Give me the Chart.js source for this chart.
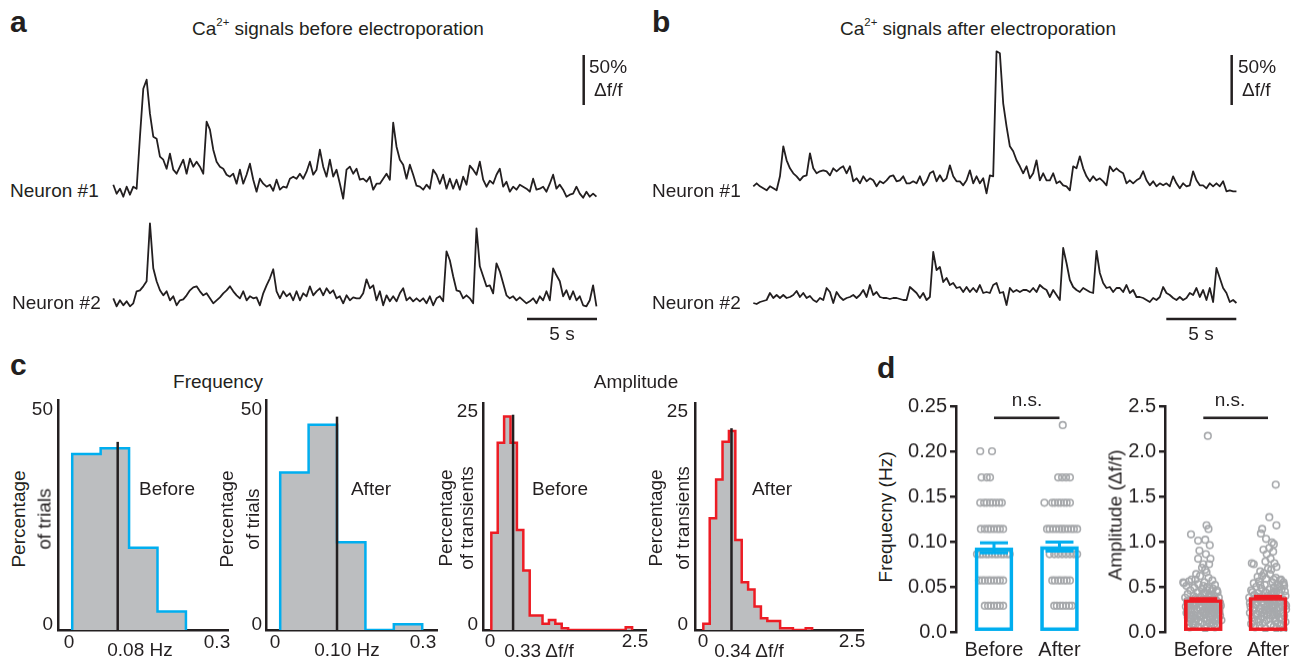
<!DOCTYPE html>
<html lang="en">
  <head>
    <meta charset="UTF-8" />
    <title>Ca2+ signals before and after electroporation</title>
    <script src="https://cdn.jsdelivr.net/npm/chart.js"></script>
    <style>
      body { margin: 0; background: #fff; }
      #fig {
        position: relative; width: 1298px; height: 661px; overflow: hidden;
        font-family: "Liberation Sans", Arial, sans-serif; color: #231f20;
      }
      #fig canvas { position: absolute; }
      .t { position: absolute; white-space: nowrap; font-size: 19px; line-height: 1; }
      .p { font-weight: bold; font-size: 30px; }
      sup { font-size: 0.6em; line-height: 0; vertical-align: 0.75em; }
    </style>
  </head>
  <body>
    <div id="fig"></div>
    <script>
      const ink = "#231f20";
      const blue = "#00aeef";
      const red = "#ed1c24";
      const histFill = "#bcbec0";
      const dotGrey = "#a7a9ac";

      // ---- panels a/b: Δf/f traces (% above baseline), one sample every dt seconds
      const dt = 0.238;
      const neuron1Before = [
        12, 3, 8, 0, 10, 2, 10, 8, 60, 108,
        117, 83, 60, 58, 40, 37, 28, 43, 27, 23,
        30, 37, 23, 38, 30, 35, 30, 23, 75, 67,
        47, 35, 30, 28, 22, 20, 23, 13, 27, 13,
        22, 33, 17, 5, 18, 13, 10, 12, 6, 17,
        7, 10, 9, 18, 20, 18, 23, 18, 25, 35,
        22, 27, 47, 30, 20, 37, 20, 27, 13, -2,
        27, 30, 23, 28, 17, 18, 15, 20, 7, 13,
        13, 18, 23, 17, 74, 50, 37, 32, 18, 32,
        22, 11, 10, 7, 12, 8, 27, 22, 13, 22,
        8, 18, 8, 17, 7, 20, 12, 31, 27, 22,
        35, 17, 10, 16, 13, 22, 28, 10, 15, 5,
        10, 7, 12, 10, 8, 5, 18, 7, 8, 10,
        5, 13, 22, 8, 12, 7, 0, 2, 3, 10,
        3, -1, 5, 0, 3, 0
      ];
      const neuron2Before = [
        10, 2, 8, 3, 7, 2, 5, 17, 18, 22,
        27, 85, 40, 27, 18, 13, 17, 8, 12, 3,
        8, 9, 13, 18, 21, 22, 17, 13, 15, 10,
        5, 8, 11, 15, 18, 22, 17, 13, 10, 17,
        8, 12, 10, 11, 3, 15, 23, 30, 39, 17,
        10, 17, 12, 15, 8, 17, 8, 15, 12, 22,
        13, 17, 20, 13, 20, 15, 18, 10, 12, 5,
        13, 8, 11, 10, 10, 15, 29, 20, 23, 8,
        17, 3, 13, 7, 12, 7, 15, 20, 8, 11,
        7, 10, 7, 10, 5, 12, 3, 10, 12, 7,
        57, 48, 32, 18, 17, 10, 13, 10, 5, 80,
        42, 32, 22, 23, 15, 45, 37, 25, 13, 10,
        12, 8, 11, 8, 5, 7, 10, 5, 12, 8,
        17, 8, 40, 33, 27, 12, 18, 9, 17, 8,
        12, 3, 2, 8, 23, 2
      ];
      const neuron1After = [
        7, 10, 7, 5, 3, 7, 5, 3, 17, 47,
        33, 25, 20, 17, 13, 17, 18, 40, 25, 20,
        22, 23, 22, 18, 25, 22, 25, 27, 20, 27,
        12, 15, 10, 17, 12, 15, 13, 7, 12, 10,
        13, 17, 18, 12, 13, 17, 10, 10, 12, 10,
        17, 8, 12, 20, 22, 12, 18, 12, 15, 28,
        17, 12, 12, 8, 13, 23, 10, 17, 10, 15,
        0, 18, 17, 142, 140, 90, 67, 47, 42, 33,
        27, 20, 27, 15, 20, 33, 13, 20, 13, 13,
        20, 10, 12, 8, 7, 3, 27, 25, 37, 25,
        17, 12, 17, 13, 15, 12, 8, 27, 22, 25,
        22, 20, 10, 13, 10, 13, 15, 22, 13, 8,
        12, 7, 10, 8, 10, 7, 17, 10, 5, 10,
        7, 8, 22, 13, 8, 8, 5, 10, 7, 10,
        7, 12, 2, 3, 2, 2
      ];
      const neuron2After = [
        2, 1, 3, 4, 5, 12, 7, 10, 7, 10,
        7, 8, 10, 14, 8, 12, 7, 9, 5, 3,
        7, 5, 17, 13, 2, 13, 8, 5, 7, 8,
        10, 7, 10, 15, 8, 20, 10, 13, 8, 7,
        7, 6, 7, 7, 6, 5, 5, 18, 15, 12,
        7, 12, 5, 8, 53, 35, 38, 23, 27, 20,
        22, 17, 18, 13, 18, 13, 17, 13, 20, 12,
        13, 12, 20, 22, 12, 13, 0, 17, 13, 15,
        13, 15, 15, 13, 17, 13, 20, 17, 15, 8,
        15, 10, 5, 57, 42, 25, 18, 15, 13, 17,
        15, 13, 12, 54, 32, 22, 17, 18, 13, 17,
        17, 13, 20, 12, 15, 8, 8, 7, 5, 3,
        7, 5, 8, 18, 12, 10, 7, 5, 8, 5,
        7, 12, 10, 17, 8, 15, 5, 17, 3, 37,
        27, 17, 12, 3, 5, 2
      ];
      const scaleBarSec = 5;
      const scaleBarPct = 50;

      // ---- panel c: histograms (% of trials / transients per bin)
      const freqBinWidth = 0.05;
      const freqBeforePct = [39.1, 40.4, 18.3, 4.1];
      const freqAfterPct = [35.0, 45.6, 19.5, 0, 1.3];
      const ampBinWidth = 0.1;
      const ampBeforePct = [10.8, 20.8, 23.7, 20.8, 11.1, 6.6, 1.6, 1.6, 0.7, 1.1, 0.7, 0.2,
        0, 0, 0, 0, 0, 0, 0, 0, 0, 0.3];
      const ampAfterPct = [0.7, 12.4, 16.7, 20.9, 22.1, 10.0, 5.3, 4.5, 2.6, 1.3, 1.0, 1.0,
        0.2, 0.2, 0, 0, 0.2];
      const medianFreq = [0.08, 0.10];
      const medianAmp = [0.33, 0.34];
      const medianAmpMarkerAt = [0.34, 0.44]; // where the figure draws the marker lines
      const medianFreqTop = [41.8, 47.4];
      const medianAmpTop = [23.9, 22.4];

      // ---- panel d: per-trial values with horizontal jitter
      const groups = ["Before", "After"];
      const freqMean = [0.093, 0.0945];
      const freqSem = [0.0055, 0.005];
      const ampMean = [0.358, 0.383];
      const ampSem = [0.012, 0.012];
      const freqTicks = [0, 0.05, 0.1, 0.15, 0.2, 0.25];
      const ampTicks = [0, 0.5, 1, 1.5, 2, 2.5];
      const freqNsLevel = 0.237;
      const ampNsLevel = 2.37;

      const freqBefore = [
        0.200, 0.200, 0.171, 0.171, 0.171,
        0.143, 0.143, 0.143, 0.143, 0.143, 0.143, 0.143, 0.143,
        0.114, 0.114, 0.114, 0.114, 0.114, 0.114, 0.114, 0.114,
        0.086, 0.086, 0.086, 0.086, 0.086, 0.086, 0.086, 0.086, 0.086, 0.086, 0.086, 0.086,
        0.057, 0.057, 0.057, 0.057, 0.057, 0.057, 0.057, 0.057, 0.057,
        0.029, 0.029, 0.029, 0.029, 0.029, 0.029, 0.029
      ];
      const freqBeforeJit = [
        -0.21, -0.03, -0.19, -0.11, -0.06,
        -0.21, -0.15, -0.11, -0.06, -0.02, 0.03, 0.08, 0.12,
        -0.20, -0.14, -0.09, -0.05, 0.00, 0.05, 0.09, 0.14,
        -0.26, -0.21, -0.17, -0.12, -0.08, -0.03, 0.02, 0.06, 0.11, 0.15, 0.20, 0.24,
        -0.23, -0.18, -0.14, -0.09, -0.05, 0.00, 0.05, 0.09, 0.14,
        -0.14, -0.09, -0.05, 0.00, 0.05, 0.09, 0.14
      ];
      const freqAfter = [
        0.229, 0.171, 0.171, 0.171, 0.171,
        0.143, 0.143, 0.143, 0.143, 0.143, 0.143, 0.143, 0.143,
        0.114, 0.114, 0.114, 0.114, 0.114, 0.114, 0.114, 0.114, 0.114, 0.114, 0.114,
        0.086, 0.086, 0.086, 0.086, 0.086, 0.086, 0.086, 0.086,
        0.057, 0.057, 0.057, 0.057, 0.057, 0.057, 0.057,
        0.029, 0.029, 0.029, 0.029, 0.029, 0.029, 0.029
      ];
      const freqAfterJit = [
        0.05, -0.02, 0.04, 0.10, 0.16,
        -0.23, -0.11, -0.07, -0.02, 0.02, 0.07, 0.11, 0.16,
        -0.19, -0.15, -0.10, -0.05, 0.00, 0.04, 0.08, 0.13, 0.18, 0.22, 0.27,
        -0.15, -0.08, -0.02, 0.04, 0.10, 0.16, 0.22, 0.27,
        -0.11, -0.07, -0.02, 0.02, 0.07, 0.11, 0.16,
        -0.08, -0.04, 0.01, 0.05, 0.10, 0.15, 0.19
      ];

      const ampBefore = [
        2.17, 1.18, 1.14, 1.08, 1.01, 1.02, 0.96, 0.90, 0.86, 0.81,
        0.81, 0.75, 0.75, 0.71, 0.69, 0.64, 0.66, 0.54, 0.58, 0.48,
        0.46, 0.13, 0.22, 0.08, 0.04, 0.55, 0.24, 0.07, 0.05, 0.62,
        0.60, 0.58, 0.57, 0.56, 0.55, 0.53, 0.52, 0.51, 0.50, 0.49,
        0.48, 0.47, 0.46, 0.45, 0.44, 0.44, 0.43, 0.42, 0.41, 0.40,
        0.40, 0.39, 0.38, 0.38, 0.37, 0.36, 0.36, 0.35, 0.35, 0.34,
        0.34, 0.33, 0.33, 0.32, 0.32, 0.31, 0.31, 0.30, 0.30, 0.29,
        0.29, 0.28, 0.28, 0.27, 0.27, 0.26, 0.26, 0.25, 0.25, 0.24,
        0.24, 0.23, 0.23, 0.22, 0.22, 0.21, 0.21, 0.20, 0.20, 0.19,
        0.19, 0.18, 0.18, 0.17, 0.17, 0.16, 0.16, 0.15, 0.15, 0.14,
        0.14, 0.13, 0.12, 0.12, 0.11, 0.10, 0.10, 0.09, 0.09, 0.08,
        0.07, 0.06, 0.06, 0.05, 0.30, 0.27, 0.25, 0.33, 0.36, 0.28,
        0.35, 0.31, 0.26, 0.22, 0.19, 0.42, 0.38, 0.29, 0.24, 0.17,
        0.39, 0.34, 0.30, 0.21, 0.15, 0.12, 0.46, 0.51, 0.28, 0.32
      ];
      const ampBeforeJit = [
        0.07, 0.05, 0.08, -0.19, -0.08, 0.03, 0.10, -0.06, 0.04, -0.08,
        0.11, 0.00, 0.09, -0.02, 0.03, -0.11, 0.05, -0.30, -0.18, 0.15,
        0.21, 0.28, 0.25, -0.15, 0.03, -0.31, 0.23, -0.13, 0.18, -0.05,
        0.08, -0.12, 0.14, -0.22, 0.02, -0.08, 0.18, -0.26, 0.06, -0.14,
        0.10, -0.02, -0.20, 0.13, -0.09, 0.22, 0.01, -0.24, 0.09, -0.15,
        0.17, -0.04, 0.24, -0.28, 0.05, -0.11, 0.14, -0.19, 0.20, 0.00,
        -0.25, 0.11, -0.07, 0.26, -0.16, 0.04, -0.22, 0.16, -0.03, 0.21,
        -0.13, 0.08, -0.27, -0.06, 0.13, 0.25, -0.18, 0.02, -0.10, 0.18,
        -0.23, 0.07, -0.14, -0.01, 0.15, -0.26, 0.22, 0.04, -0.09, 0.12,
        -0.20, 0.26, -0.04, 0.09, -0.16, 0.19, -0.24, 0.01, -0.11, 0.14,
        -0.19, 0.06, -0.07, 0.20, -0.22, 0.10, -0.02, 0.16, -0.17, 0.05,
        0.22, -0.08, 0.12, -0.21, 0.10, 0.19, -0.20, 0.17, -0.01, -0.02,
        0.07, -0.10, 0.05, -0.19, 0.03, 0.02, -0.12, 0.27, 0.10, -0.05,
        0.12, 0.15, -0.20, 0.11, 0.22, -0.14, 0.06, 0.00, 0.14, -0.24
      ];
      const ampAfter = [
        1.63, 1.27, 1.18, 1.14, 1.09, 1.03, 0.99, 0.97, 0.91, 0.93,
        0.89, 0.86, 0.75, 0.81, 0.78, 0.76, 0.67, 0.69, 0.53, 0.57,
        0.61, 0.76, 0.55, 0.44, 0.64, 0.62, 0.60, 0.59, 0.58, 0.56,
        0.55, 0.54, 0.53, 0.52, 0.51, 0.50, 0.49, 0.48, 0.47, 0.47,
        0.46, 0.45, 0.44, 0.43, 0.43, 0.42, 0.41, 0.40, 0.40, 0.39,
        0.38, 0.38, 0.37, 0.36, 0.36, 0.35, 0.35, 0.34, 0.33, 0.33,
        0.32, 0.31, 0.31, 0.30, 0.30, 0.29, 0.28, 0.28, 0.27, 0.26,
        0.26, 0.25, 0.25, 0.24, 0.23, 0.23, 0.22, 0.21, 0.21, 0.20,
        0.20, 0.19, 0.18, 0.18, 0.17, 0.16, 0.16, 0.15, 0.14, 0.14,
        0.13, 0.12, 0.12, 0.11, 0.10, 0.10, 0.09, 0.08, 0.07, 0.07,
        0.06, 0.05, 0.04, 0.04, 0.03, 0.45, 0.37, 0.29, 0.24, 0.32,
        0.19, 0.27, 0.41, 0.33, 0.48, 0.52, 0.39, 0.35, 0.30, 0.26,
        0.22, 0.18, 0.15, 0.11, 0.08, 0.42, 0.36, 0.31, 0.27, 0.24,
        0.70, 0.72, 0.65, 0.58, 0.50, 0.44, 0.40, 0.34, 0.29, 0.20
      ];
      const ampAfterJit = [
        0.12, 0.02, 0.13, -0.09, -0.11, -0.03, 0.06, 0.09, -0.07, 0.02,
        0.08, -0.02, -0.22, 0.04, -0.04, 0.10, -0.12, 0.05, 0.24, 0.19,
        -0.16, -0.25, 0.24, -0.24, 0.03, -0.09, 0.12, -0.03, 0.20, -0.14,
        0.07, -0.22, 0.15, -0.05, 0.25, -0.18, 0.09, -0.10, 0.02, 0.21,
        -0.26, 0.13, -0.04, 0.18, -0.15, 0.06, -0.21, 0.27, -0.08, 0.11,
        -0.29, 0.01, 0.16, -0.12, 0.23, -0.02, -0.24, 0.08, 0.19, -0.16,
        0.03, -0.07, 0.26, -0.20, 0.12, -0.01, 0.22, -0.27, 0.06, -0.11,
        0.17, -0.05, 0.28, -0.23, 0.10, -0.14, 0.01, 0.20, -0.28, -0.06,
        0.14, -0.18, 0.07, 0.25, -0.10, 0.18, -0.25, 0.03, -0.15, 0.22,
        -0.02, 0.11, -0.21, 0.27, -0.08, 0.15, -0.26, 0.04, -0.13, 0.19,
        0.09, -0.20, 0.13, -0.04, 0.24, 0.26, -0.20, 0.28, 0.15, -0.28,
        0.09, -0.22, 0.05, 0.00, 0.14, -0.12, -0.17, 0.20, 0.06, 0.02,
        -0.09, -0.02, 0.11, -0.14, 0.21, 0.10, 0.00, -0.18, 0.16, -0.03,
        0.00, 0.13, -0.06, 0.09, 0.18, 0.08, -0.01, -0.09, 0.09, -0.16
      ];

      Chart.defaults.font.family = '"Liberation Sans", Arial, sans-serif';
      Chart.defaults.color = ink;
      Chart.defaults.animation = false;
      Chart.defaults.plugins.legend.display = false;
      Chart.defaults.plugins.tooltip.enabled = false;

      const fig = document.getElementById("fig");

      function makeCanvas(left, top, w, h) {
        const c = document.createElement("canvas");
        c.width = w;
        c.height = h;
        c.style.left = left + "px";
        c.style.top = top + "px";
        c.style.width = w + "px";
        c.style.height = h + "px";
        fig.appendChild(c);
        return c;
      }

      // traces: 14 px per second, 1 px per % Δf/f
      function traceChart(left, top, traces, offsets, vBar, hBar) {
        const c = makeCanvas(left, top, 520, 300);
        const xmin = -13.3 / 14;
        const datasets = traces.map((tr, k) => ({
          data: tr.map((v, i) => ({ x: i * dt, y: v + offsets[k] })),
          borderColor: ink,
          borderWidth: 1.8,
          borderJoinStyle: "round",
          pointRadius: 0,
          tension: 0,
        }));
        datasets.push({
          data: [{ x: vBar[0], y: vBar[1] }, { x: vBar[0], y: vBar[1] + scaleBarPct }],
          borderColor: ink, borderWidth: 2.5, pointRadius: 0,
        });
        datasets.push({
          data: [{ x: hBar[0], y: hBar[1] }, { x: hBar[0] + scaleBarSec, y: hBar[1] }],
          borderColor: ink, borderWidth: 2.5, pointRadius: 0,
        });
        new Chart(c, {
          type: "line",
          data: { datasets },
          options: {
            responsive: false,
            layout: { padding: 0 },
            scales: {
              x: { type: "linear", display: false, min: xmin, max: xmin + 520 / 14 },
              y: { display: false, min: 0, max: 300 },
            },
          },
        });
      }

      traceChart(100, 40, [neuron1Before, neuron2Before], [143.3, 31.7], [33.6, 235], [29.55, 21]);
      traceChart(740, 40, [neuron1After, neuron2After], [146.7, 35], [34.17, 235], [29.5, 21]);

      // histograms: step outline from the bin heights
      function stepPoints(width, pct) {
        const pts = [{ x: 0, y: 0 }];
        pct.forEach((p, i) => pts.push({ x: i * width, y: p }));
        pts.push({ x: pct.length * width, y: 0 });
        return pts;
      }

      function histChart(box, xr, yMax, pts, lineColor, medX, medTop) {
        const pad = 5;
        const c = makeCanvas(box[0] - pad, box[1] - pad, box[2] - box[0] + 2 * pad, box[3] - box[1] + 2 * pad);
        const axis = (min, max, horiz) => ({
          type: "linear", min, max, z: 1,
          ticks: { display: false },
          grid: { display: false, drawTicks: false },
          border: { display: true, color: ink, width: 2.5 },
          afterFit: (s) => { if (horiz) s.height = 0; else s.width = 0; },
        });
        new Chart(c, {
          type: "line",
          data: {
            datasets: [
              {
                data: [{ x: medX, y: 0 }, { x: medX, y: medTop }],
                borderColor: ink, borderWidth: 2.5, pointRadius: 0,
              },
              {
                data: pts, stepped: "before", borderColor: lineColor, borderWidth: 2.5,
                backgroundColor: histFill, fill: "origin", pointRadius: 0,
              },
            ],
          },
          options: {
            responsive: false,
            layout: { padding: pad },
            scales: { x: axis(xr[0], xr[1], true), y: axis(0, yMax, false) },
          },
        });
      }

      histChart([58, 400, 228, 630], [-0.025, 0.274], 51.1, stepPoints(freqBinWidth, freqBeforePct), blue, medianFreq[0], medianFreqTop[0]);
      histChart([266, 400, 437, 630], [-0.025, 0.276], 51.1, stepPoints(freqBinWidth, freqAfterPct), blue, medianFreq[1], medianFreqTop[1]);
      histChart([483, 403, 646, 630], [-0.13, 2.417], 25.2, stepPoints(ampBinWidth, ampBeforePct), red, medianAmpMarkerAt[0], medianAmpTop[0]);
      histChart([695, 403, 863, 630], [-0.13, 2.495], 25.2, stepPoints(ampBinWidth, ampAfterPct), red, medianAmpMarkerAt[1], medianAmpTop[1]);

      // panel d: bar (mean) + SEM + jittered dots
      const errorBars = {
        id: "errorBars",
        afterDatasetsDraw(chart, args, o) {
          const { ctx } = chart;
          const { x, y } = chart.scales;
          ctx.save();
          ctx.strokeStyle = o.color;
          ctx.lineWidth = o.width;
          o.mean.forEach((m, i) => {
            const cx = x.getPixelForValue(i);
            const yt = y.getPixelForValue(m + o.sem[i]);
            const yb = y.getPixelForValue(m - o.sem[i]);
            ctx.beginPath();
            ctx.moveTo(cx, yt); ctx.lineTo(cx, yb);
            ctx.moveTo(cx - o.cap, yt); ctx.lineTo(cx + o.cap, yt);
            ctx.moveTo(cx - o.cap, yb); ctx.lineTo(cx + o.cap, yb);
            ctx.stroke();
          });
          ctx.restore();
        },
      };

      function dotBarChart(box, xr, yMax, ticks, fmt, mean, sem, color, sets, nsLevel) {
        const yW = 60, xH = 28, padTop = 12, padRight = 6;
        const left = box[0] - yW, top = box[1] - padTop;
        const c = makeCanvas(left, top, box[2] + padRight - left, box[3] + xH - top);
        const dots = [];
        sets.forEach((s, g) => s.vals.forEach((v, i) => dots.push({ x: g + s.jit[i], y: v })));
        new Chart(c, {
          type: "bar",
          data: {
            datasets: [
              {
                data: mean.map((m, i) => ({ x: i, y: m })),
                barThickness: 38, borderWidth: 3, borderColor: color,
                backgroundColor: "rgba(0,0,0,0)", borderSkipped: false,
              },
              {
                type: "line",
                data: [{ x: 0, y: nsLevel }, { x: 1, y: nsLevel }],
                borderColor: ink, borderWidth: 2.5, pointRadius: 0,
              },
              {
                type: "scatter", data: dots,
                pointRadius: 3.3, borderWidth: 1.6, borderColor: dotGrey,
                backgroundColor: "rgba(255,255,255,0)",
              },
            ],
          },
          options: {
            responsive: false,
            layout: { padding: { left: 0, top: padTop, right: padRight, bottom: 0 } },
            plugins: { errorBars: { mean, sem, color, width: 3, cap: 14 } },
            scales: {
              x: {
                type: "linear", min: xr[0], max: xr[1], offset: false,
                afterBuildTicks: (s) => { s.ticks = groups.map((g, i) => ({ value: i })); },
                afterFit: (s) => { s.height = xH; },
                ticks: { callback: (v) => groups[v], font: { size: 20 }, padding: 6, maxRotation: 0, autoSkip: false },
                grid: { display: false, drawTicks: false },
                border: { display: false },
              },
              y: {
                min: 0, max: yMax,
                afterBuildTicks: (s) => { s.ticks = ticks.map((v) => ({ value: v })); },
                afterFit: (s) => { s.width = yW; },
                ticks: { callback: fmt, font: { size: 20 }, padding: 3 },
                grid: { display: true, drawOnChartArea: false, drawTicks: true, tickLength: 6, color: ink, lineWidth: 2.5 },
                border: { display: true, color: ink, width: 2.5 },
              },
            },
          },
          plugins: [errorBars],
        });
      }

      dotBarChart([956, 403.3, 1086, 631.7], [-0.58, 1.405], 0.25, freqTicks,
        (v) => (v === 0 ? "0.0" : v.toFixed(2)), freqMean, freqSem, blue,
        [{ vals: freqBefore, jit: freqBeforeJit }, { vals: freqAfter, jit: freqAfterJit }], freqNsLevel);
      dotBarChart([1165, 403.3, 1292, 631.7], [-0.592, 1.371], 2.5, ampTicks,
        (v) => v.toFixed(1), ampMean, ampSem, red,
        [{ vals: ampBefore, jit: ampBeforeJit }, { vals: ampAfter, jit: ampAfterJit }], ampNsLevel);

      // text
      const texts = [
        ["a", 10, 22, "l", "p"], ["b", 652, 22, "l", "p"],
        ["c", 10, 365, "l", "p"], ["d", 877, 368, "l", "p"],
        ["Ca<sup>2+</sup> signals before electroporation", 192, 28, "l"],
        ["Ca<sup>2+</sup> signals after electroporation", 840, 28, "l"],
        ["Neuron #1", 10, 190, "l"], ["Neuron #2", 12, 302, "l"],
        ["Neuron #1", 652, 190, "l"], ["Neuron #2", 652, 302, "l"],
        ["50%", 589, 66, "l"], ["Δf/f", 594, 89, "l"],
        ["50%", 1238, 66, "l"], ["Δf/f", 1242, 89, "l"],
        [scaleBarSec + " s", 562, 333, "c"], [scaleBarSec + " s", 1201, 333, "c"],
        ["Frequency", 218, 381, "c"], ["Amplitude", 636, 381, "c"],
        ["50", 53, 408, "r"], ["0", 53, 623, "r"], ["0", 69, 641, "c"],
        [medianFreq[0].toFixed(2) + " Hz", 140, 649, "c"], ["0.3", 217, 641, "c"],
        ["50", 262, 408, "r"], ["0", 262, 623, "r"], ["0", 275, 641, "c"],
        [medianFreq[1].toFixed(2) + " Hz", 347, 649, "c"], ["0.3", 423, 641, "c"],
        ["25", 478, 410, "r"], ["0", 478, 623, "r"], ["0", 490, 640, "c"],
        [medianAmp[0].toFixed(2) + " Δf/f", 539, 650, "c"], ["2.5", 635, 640, "c"],
        ["25", 688, 410, "r"], ["0", 688, 623, "r"], ["0", 703, 640, "c"],
        [medianAmp[1].toFixed(2) + " Δf/f", 749, 650, "c"], ["2.5", 852, 640, "c"],
        ["Before", 167, 488, "c"], ["After", 371, 488, "c"],
        ["Before", 560, 488, "c"], ["After", 772, 488, "c"],
        ["Percentage", 18, 519, "v"], ["of trials", 44, 519, "v"],
        ["Percentage", 226, 519, "v"], ["of trials", 252, 519, "v"],
        ["Percentage", 445, 518, "v"], ["of transients", 466, 518, "v"],
        ["Percentage", 655, 518, "v"], ["of transients", 682, 518, "v"],
        ["Frequecny (Hz)", 885, 517, "v"], ["Amplitude (Δf/f)", 1115, 515, "v"],
        ["n.s.", 1027, 399, "c"], ["n.s.", 1230, 399, "c"],
      ];
      texts.forEach(([html, x, y, align, cls]) => {
        const el = document.createElement("div");
        el.className = "t" + (cls ? " " + cls : "");
        el.innerHTML = html;
        el.style.left = x + "px";
        el.style.top = y + "px";
        const tx = align === "l" ? "0" : align === "r" ? "-100%" : "-50%";
        el.style.transform = `translate(${tx},-50%)` + (align === "v" ? " rotate(-90deg)" : "");
        fig.appendChild(el);
      });
    </script>
  </body>
</html>
